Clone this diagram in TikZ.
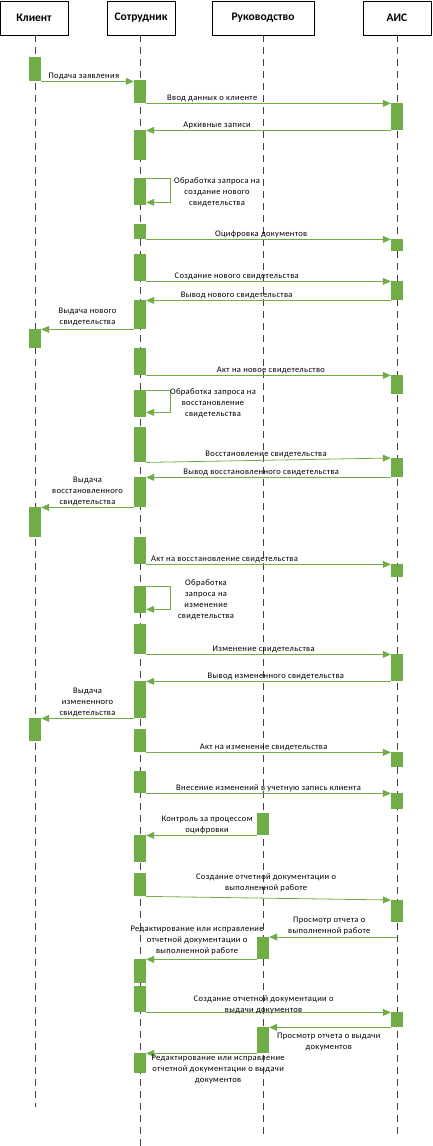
\documentclass[tikz,border=0pt]{standalone}
\usepackage{fontspec}
\setmainfont{Carlito}
\newfontfamily\lblfont{Carlito}[LetterSpace=4]
\usetikzlibrary{arrows.meta}
\definecolor{actgreen}{RGB}{112,173,71}
\definecolor{lifegray}{RGB}{64,64,64}

\begin{document}
\begin{tikzpicture}
[
    x=1pt, y=-1pt,
    actor/.style={draw=black, fill=white, line width=0.6pt, minimum height=34pt, inner sep=0pt, font=\fontsize{11.5}{13}\selectfont\bfseries},
    life/.style={draw=lifegray, line width=0.8pt, dash pattern=on 7pt off 5pt},
    bar/.style={fill=actgreen, minimum width=12pt, inner sep=0pt, anchor=north},
    msg/.style={draw=actgreen, line width=0.8pt, -{Triangle[length=8pt,width=7pt]}},
    lbl/.style={font=\lblfont\fontsize{8.5}{11}\selectfont, align=center, inner sep=1.5pt},
]
\useasboundingbox (0,0) rectangle (432,1146);
\node [actor, minimum width=68pt] (kl) at (34,18) {Клиент};
\node [actor, minimum width=68pt] (so) at (141,18) {Сотрудник};
\node [actor, minimum width=102pt] (ru) at (263,18) {Руководство};
\node [actor, minimum width=68pt] (ai) at (397,18) {АИС};
\coordinate (kle) at (35,1107);
\coordinate (soe) at (140,1146);
\coordinate (rue) at (263,1135);
\coordinate (aie) at (397,1135);
\draw [life] (kl.south -| kle) -- (kle);
\draw [life] (so.south -| soe) -- (soe);
\draw [life] (ru.south -| rue) -- (rue);
\draw [life] (ai.south -| aie) -- (aie);
% Клиент
\node [bar, minimum height=24pt] (k1) at (35,57) {};
\node [bar, minimum height=19pt] (k2) at (35,329) {};
\node [bar, minimum height=30pt] (k3) at (35,507) {};
\node [bar, minimum height=23pt] (k4) at (35,718) {};
% Сотрудник
\node [bar, minimum height=23pt] (s1) at (140,80) {};
\node [bar, minimum height=30pt] (s2) at (140,130) {};
\node [bar, minimum height=27pt] (s3) at (140,178) {};
\node [bar, minimum height=15pt] (s4) at (140,224) {};
\node [bar, minimum height=27pt] (s5) at (140,254) {};
\node [bar, minimum height=29pt] (s6) at (140,300) {};
\node [bar, minimum height=27pt] (s7) at (140,348) {};
\node [bar, minimum height=27pt] (s8) at (140,390) {};
\node [bar, minimum height=35pt] (s9) at (140,427) {};
\node [bar, minimum height=30pt] (s10) at (140,477) {};
\node [bar, minimum height=27pt] (s11) at (140,537) {};
\node [bar, minimum height=27pt] (s12) at (140,586) {};
\node [bar, minimum height=30pt] (s13) at (140,624) {};
\node [bar, minimum height=37pt] (s14) at (140,681) {};
\node [bar, minimum height=23pt] (s15) at (140,729) {};
\node [bar, minimum height=22pt] (s16) at (140,771) {};
\node [bar, minimum height=27pt] (s17) at (140,835) {};
\node [bar, minimum height=23pt] (s18) at (140,873) {};
\node [bar, minimum height=24pt] (s19) at (140,959) {};
\node [bar, minimum height=26pt] (s20) at (140,986) {};
\node [bar, minimum height=20pt] (s21) at (140,1053) {};
% Руководство
\node [bar, minimum height=22pt] (r1) at (263,813) {};
\node [bar, minimum height=22pt] (r2) at (263,937) {};
\node [bar, minimum height=26pt] (r3) at (263,1027) {};
% АИС
\node [bar, minimum height=27pt] (a1) at (397,103) {};
\node [bar, minimum height=12pt] (a2) at (397,239) {};
\node [bar, minimum height=19pt] (a3) at (397,281) {};
\node [bar, minimum height=19pt] (a4) at (397,375) {};
\node [bar, minimum height=19pt] (a5) at (397,458) {};
\node [bar, minimum height=13pt] (a6) at (397,564) {};
\node [bar, minimum height=27pt] (a7) at (397,654) {};
\node [bar, minimum height=15pt] (a8) at (397,752) {};
\node [bar, minimum height=16pt] (a9) at (397,793) {};
\node [bar, minimum height=22pt] (a10) at (397,900) {};
\node [bar, minimum height=15pt] (a11) at (397,1012) {};
\coordinate (ap) at (397,937);
% сообщения
\draw [msg] (k1.south east) -- (k1.south east -| s1.west) node [lbl, above, pos=0.46] {Подача заявления};
\draw [msg] (s1.south east) -- (s1.south east -| a1.west) node [lbl, above, pos=0.27] {Ввод данных о клиенте};
\draw [msg] (a1.south west) -- (a1.south west -| s2.east) node [lbl, above, pos=0.71] {Архивные записи};
\draw [msg] (s3.north east) -- ++(24,0) |- ([yshift=3pt]s3.south east);
\node [lbl] (o1) at (217,192) {Обработка запроса на\\создание нового\\свидетельства};
\draw [msg] (s4.south east) -- (s4.south east -| a2.west) node [lbl, above, pos=0.47] {Оцифровка документов};
\draw [msg] (s5.south east) -- (s5.south east -| a3.west) node [lbl, above, pos=0.37] {Создание нового свидетельства};
\draw [msg] (a3.south west) -- (a3.south west -| s6.east) node [lbl, above, pos=0.63] {Вывод нового свидетельства};
\draw [msg] (s6.south west) -- (s6.south west -| k2.east) node [lbl, above, midway, yshift=2pt] {Выдача нового\\свидетельства};
\draw [msg] (s7.south east) -- (s7.south east -| a4.west) node [lbl, above, pos=0.51] {Акт на новое свидетельство};
\draw [msg] (s8.north east) -- ++(24,0) |- ([yshift=5pt]s8.south east);
\node [lbl] (o2) at (213,403) {Обработка запроса на\\восстановление\\свидетельства};
\draw [msg] (s9.south east) -- (a5.north west) node [lbl, above, pos=0.49] {Восстановление свидетельства};
\draw [msg] (a5.south west) -- (a5.south west -| s10.east) node [lbl, above, pos=0.53] {Вывод восстановленного свидетельства};
\draw [msg] (s10.south west) -- (s10.south west -| k3.east) node [lbl, above, midway] {Выдача\\восстановленного\\свидетельства};
\draw [msg] (s11.south east) -- (s11.south east -| a6.west) node [lbl, above, pos=0.32] {Акт на восстановление свидетельства};
\draw [msg] (s12.north east) -- ++(24,0) |- ([yshift=4pt]s12.south east);
\node [lbl] (o3) at (206,600) {Обработка\\запроса на\\изменение\\свидетельства};
\draw [msg] (s13.south east) -- (s13.south east -| a7.west) node [lbl, above, pos=0.48] {Изменение свидетельства};
\draw [msg] (a7.south west) -- (a7.south west -| s14.east) node [lbl, above, pos=0.47] {Вывод измененного свидетельства};
\draw [msg] (s14.south west) -- (s14.south west -| k4.east) node [lbl, above, midway] {Выдача\\измененного\\свидетельства};
\draw [msg] (s15.south east) -- (s15.south east -| a8.west) node [lbl, above, pos=0.48] {Акт на изменение свидетельства};
\draw [msg] (s16.south east) -- (s16.south east -| a9.west) node [lbl, above, pos=0.5] {Внесение изменений в учетную запись клиента};
\draw [msg] (r1.south west) -- (r1.south west -| s17.east) node [lbl, above, pos=0.45] {Контроль за процессом\\оцифровки};
\draw [msg] (s18.south east) -- (a10.north west) node [lbl, above, pos=0.49, yshift=4pt] {Создание отчетной документации о\\выполненной работе};
\draw [msg] (ap) -- (ap -| r2.east) node [lbl, above, pos=0.53] {Просмотр отчета о\\выполненной работе};
\draw [msg] (r2.south west) -- (r2.south west -| s19.east) node [lbl, above, pos=0.54, yshift=3pt] {Редактирование или исправление\\отчетной документации о\\выполненной работе};
\draw [msg] (s20.south east) -- (s20.south east -| a11.west) node [lbl, above, pos=0.48, yshift=-3pt] {Создание отчетной документации о\\выдачи документов};
\draw [msg] (a11.south west) -- (a11.south west -| r3.east) node [lbl, below, pos=0.51, yshift=-4pt] {Просмотр отчета о выдачи\\документов};
\draw [msg] (r3.south west) -- (r3.south west -| s21.east) node [lbl, below, pos=0.35] {Редактирование или исправление\\отчетной документации о выдачи\\документов};
\end{tikzpicture}
\end{document}
